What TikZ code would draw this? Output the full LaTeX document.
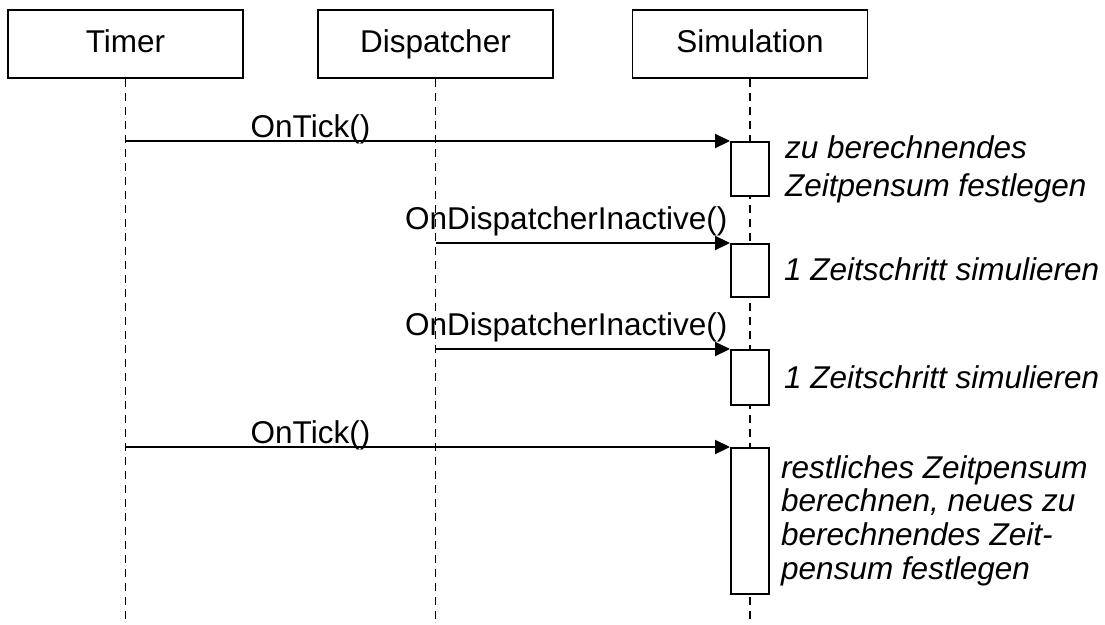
\documentclass[tikz,border=0pt]{standalone}
\usepackage{fontspec}
\setmainfont{Liberation Sans}
\usetikzlibrary{arrows.meta}
\begin{document}
\begin{tikzpicture}[x=1pt,y=-1pt,
  font=\fontsize{31.5}{38}\selectfont,
  lw/.style={line width=1.9pt},
  objbox/.style={draw, lw, minimum width=235pt, minimum height=68pt, inner sep=0pt,
                 text height=22pt, text depth=6pt},
  lifeline/.style={lw, dash pattern=on 8pt off 6pt},
  actbox/.style={draw, lw, fill=white, minimum width=38pt, inner sep=0pt, anchor=north},
  msg/.style={lw, -{Triangle[length=15pt,width=14pt]}},
  msglabel/.style={anchor=base, inner sep=0pt},
  note/.style={anchor=base west, inner sep=0pt, font=\fontsize{31.5}{38}\selectfont\itshape}
]
\useasboundingbox (0,0) rectangle (1105,624);

% objects
\node[objbox] (timer) at (125.5,44) {Timer};
\node[objbox] (disp)  at (435.5,44) {Dispatcher};
\node[objbox] (sim)   at (750,44)   {Simulation};

% lifelines
\coordinate (timerEnd) at (timer.center |- 0,624);
\coordinate (dispEnd)  at (disp.center |- 0,624);
\coordinate (simEnd)   at (sim.center |- 0,624);
\draw[lifeline] (timer.south) -- (timerEnd);
\draw[lifeline] (disp.south)  -- (dispEnd);
\draw[lifeline] (sim.south)   -- (simEnd);

% activations on the simulation lifeline
\node[actbox, minimum height=54pt]  (act1) at (sim.center |- 0,141) {};
\node[actbox, minimum height=53pt]  (act2) at (sim.center |- 0,243) {};
\node[actbox, minimum height=55pt]  (act3) at (sim.center |- 0,349) {};
\node[actbox, minimum height=146pt] (act4) at (sim.center |- 0,447) {};

% messages
\draw[msg] (timer.center |- act1.north) -- (act1.north west)
  node[msglabel, pos=0.306, yshift=4pt] (m1) {OnTick()};
\draw[msg] (disp.center |- act2.north) -- (act2.north west)
  node[msglabel, pos=0.444, yshift=14pt] (m2) {OnDispatcherInactive()};
\draw[msg] (disp.center |- act3.north) -- (act3.north west)
  node[msglabel, pos=0.444, yshift=14pt] (m3) {OnDispatcherInactive()};
\draw[msg] (timer.center |- act4.north) -- (act4.north west)
  node[msglabel, pos=0.306, yshift=4pt] (m4) {OnTick()};

% notes
\node[note] (n1) at (785,158)
  {\begin{tabular}[t]{@{}l@{}}zu berechnendes\\Zeitpensum festlegen\end{tabular}};
\node[note] (n2) at (784,280) {1 Zeitschritt simulieren};
\node[note] (n3) at (784,388) {1 Zeitschritt simulieren};
\node[note, font=\fontsize{31.5}{33.7}\selectfont\itshape] (n4) at (781,478)
  {\begin{tabular}[t]{@{}l@{}}restliches Zeitpensum\\berechnen, neues zu\\berechnendes Zeit-\\pensum festlegen\end{tabular}};
\end{tikzpicture}
\end{document}
